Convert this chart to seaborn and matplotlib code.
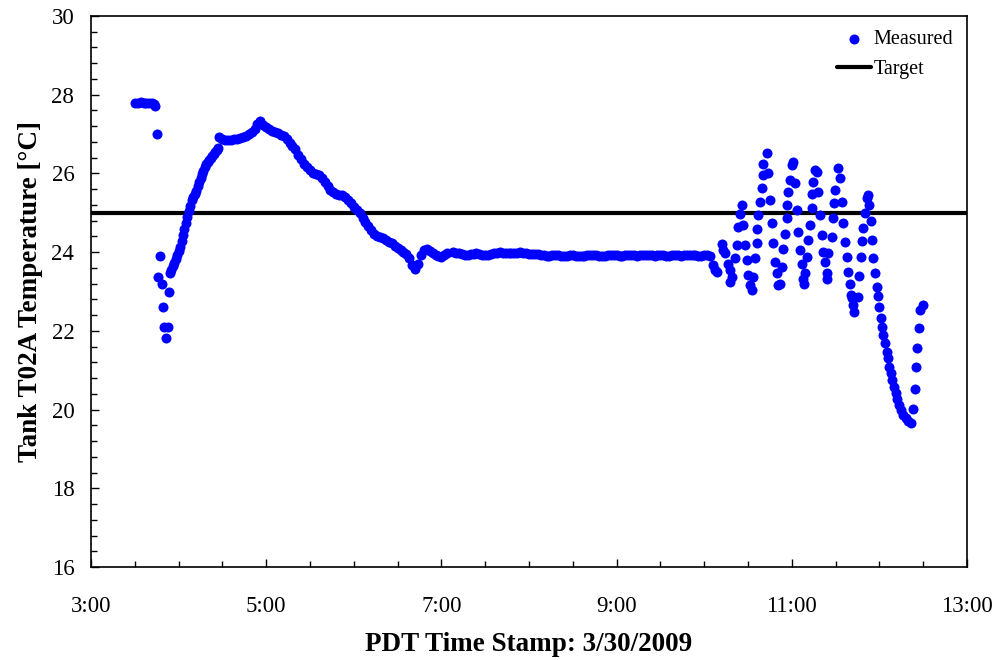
import numpy as np
import pandas as pd
import matplotlib
matplotlib.use("Agg")
import matplotlib.pyplot as plt
from matplotlib.ticker import MultipleLocator
import seaborn as sns

# ---------------- data (minutes after 3:00, temperature in deg C) ----------------
start_min = [30, 32, 34, 36, 38, 40, 42, 43, 44]
start_temp = [27.80, 27.80, 27.81, 27.80, 27.80, 27.79, 27.78, 27.76, 27.72]

drop_min = [45, 46.1, 47.3, 48.4, 49.1, 50.2, 51.4, 52.5, 53.4]
drop_temp = [27.00, 23.36, 23.90, 23.18, 22.60, 22.10, 21.81, 22.10, 22.99]

# 1-minute samples starting at minute 54
rise_start, rise_step = 54, 1
rise_temp = [23.47, 23.55, 23.64, 23.72, 23.82, 23.92, 24.03, 24.14, 24.29, 24.44,
             24.59, 24.75, 24.90, 25.05, 25.18, 25.32, 25.40, 25.48, 25.56, 25.67,
             25.78, 25.89, 25.98, 26.07, 26.16, 26.25, 26.30, 26.35, 26.40, 26.45,
             26.50, 26.55, 26.60, 26.64]

# 2-minute samples starting at minute 88
peak_start, peak_step = 88, 2
peak_temp = [26.93, 26.88, 26.86, 26.85, 26.86, 26.87, 26.88, 26.90, 26.93, 26.96,
             27.00, 27.06, 27.14, 27.25, 27.33, 27.24, 27.18, 27.12, 27.08, 27.05,
             27.02, 26.98, 26.94, 26.88, 26.78, 26.70, 26.62, 26.48, 26.36, 26.25,
             26.16, 26.08, 26.02, 25.98, 25.95, 25.88, 25.79, 25.68, 25.58, 25.52,
             25.48, 25.46, 25.44, 25.40, 25.32, 25.24, 25.15, 25.06, 24.99, 24.88,
             24.76, 24.66, 24.56, 24.47, 24.42, 24.39, 24.36, 24.31, 24.27, 24.22,
             24.16, 24.10, 24.05, 24.01, 23.96, 23.86, 23.68, 23.58, 23.70, 23.92,
             24.05, 24.08, 24.03, 23.97, 23.93, 23.90, 23.88, 23.92, 23.97]

# 2-minute samples starting at minute 248
flat_start, flat_step = 248, 2
flat_temp = [24.00, 23.99, 23.97, 23.95, 23.94, 23.94, 23.95,
             23.96, 23.97, 23.96, 23.94, 23.93, 23.94, 23.96, 23.98, 23.99, 24.00,
             23.99, 23.98, 23.97, 23.97, 23.98, 23.99, 24.00, 23.99, 23.97, 23.95,
             23.95, 23.96, 23.95, 23.94, 23.92, 23.91, 23.91, 23.92, 23.93, 23.92,
             23.91, 23.90, 23.91, 23.92, 23.92, 23.91, 23.90, 23.90, 23.91, 23.92,
             23.92, 23.93, 23.92, 23.91, 23.90, 23.91, 23.92, 23.93, 23.93, 23.92,
             23.91, 23.91, 23.92, 23.93, 23.93, 23.92, 23.91, 23.92, 23.93, 23.94,
             23.93, 23.92, 23.91, 23.92, 23.93, 23.92, 23.91, 23.91, 23.92, 23.93,
             23.92, 23.91, 23.92, 23.93, 23.94, 23.93, 23.92, 23.91, 23.91, 23.92,
             23.93, 23.91]

osc_min = [426.2, 427.4, 428.5, 431.9, 433.1, 434.2, 436.5, 437.6, 438.8, 437.9,
           441.1, 442.2, 443.4, 444.5, 445.6, 446.8, 447.9, 449.1, 450.2, 451.3,
           452.5, 453.6, 454.8, 455.9, 456.5, 457.1, 458.2, 459.3, 460.0, 460.5,
           462.8, 463.9, 465.0, 466.2, 467.3, 468.5, 469.6, 470.8, 471.9, 473.0,
           474.2, 475.3, 476.5, 477.0, 477.6, 478.7, 479.9, 481.0, 482.2, 483.3,
           484.5, 485.6, 486.7, 487.9, 488.4, 489.0, 490.2, 491.3, 492.4, 493.6,
           494.1, 494.7, 495.9, 497.0, 498.1, 499.3, 500.4, 501.6, 502.7, 503.9,
           504.4, 505.0, 507.3, 508.4, 509.0, 509.6, 511.8, 513.0, 514.1, 515.3,
           516.4, 517.6, 518.7, 519.8, 520.3, 521.0, 522.1, 522.6,
           525.6, 526.2, 527.2, 527.8, 529.0, 530.1, 531.3, 532.4, 533.1, 534.0,
           534.9, 535.8, 537.0, 538.1, 539.3, 540.0, 540.9, 541.8, 542.7, 543.8,
           545.0, 545.6, 546.8, 547.7, 548.8, 550.0, 551.1, 552.3, 553.4, 554.8,
           556.4, 558.2, 559.5, 561.4, 562.8, 564.4, 565.1, 566.0, 567.1, 567.8,
           569.6]
osc_temp = [23.68, 23.54, 23.50, 24.20, 24.05, 23.97, 23.71, 23.54, 23.38, 23.25,
            23.84, 24.18, 24.64, 24.98, 25.20, 24.69, 24.18, 23.80, 23.42, 23.17,
            23.04, 23.37, 23.84, 24.22, 24.60, 24.94, 25.28, 25.62, 25.96, 26.25,
            26.51, 26.00, 25.32, 24.73, 24.22, 23.76, 23.46, 23.16, 23.20, 23.63,
            24.09, 24.47, 24.86, 25.20, 25.54, 25.83, 26.21, 26.30, 25.75, 25.07,
            24.52, 24.05, 23.71, 23.33, 23.20, 23.46, 23.88, 24.31, 24.69, 25.11,
            25.49, 25.79, 26.09, 26.04, 25.54, 24.94, 24.43, 24.01, 23.76, 23.46,
            23.33, 23.97, 24.39, 24.86, 25.24, 25.58, 26.13, 25.88, 25.28, 24.73,
            24.26, 23.88, 23.50, 23.20, 22.91, 22.83, 22.66, 22.49,
            22.87, 23.40, 23.88, 24.28, 24.62, 24.99, 25.37, 25.45, 25.20, 24.79,
            24.31, 23.86, 23.48, 23.12, 22.89, 22.61, 22.33, 22.11, 21.89, 21.68,
            21.47, 21.30, 21.09, 20.92, 20.75, 20.58, 20.41, 20.26, 20.12, 19.99,
            19.86, 19.78, 19.72, 19.65, 20.01, 20.51, 21.09, 21.56, 22.08, 22.53,
            22.66]

target_temp = 25.0
x_ticks_h = [3, 5, 7, 9, 11, 13]
x_tick_labels = ["3:00", "5:00", "7:00", "9:00", "11:00", "13:00"]
y_ticks = [16, 18, 20, 22, 24, 26, 28, 30]

# ---------------- assemble ----------------
def regular(start, step, vals):
    return list(range(start, start + step * len(vals), step))

minutes = (start_min + drop_min + regular(rise_start, rise_step, rise_temp)
           + regular(peak_start, peak_step, peak_temp)
           + regular(flat_start, flat_step, flat_temp) + osc_min)
temps = start_temp + drop_temp + rise_temp + peak_temp + flat_temp + osc_temp
df = pd.DataFrame({"hour": 3 + np.array(minutes, dtype=float) / 60.0, "temp": temps})
tgt = pd.DataFrame({"hour": [x_ticks_h[0], x_ticks_h[-1]], "temp": [target_temp, target_temp]})

# ---------------- style ----------------
sns.set_theme(style="white")
plt.rcParams["font.family"] = ["Liberation Serif", "DejaVu Serif"]
plt.rcParams["text.color"] = "black"
plt.rcParams["axes.labelcolor"] = "black"

fig = plt.figure(figsize=(9.98, 6.6), dpi=100)
ax = fig.add_axes([91 / 998, 1 - 567 / 660, 876 / 998, 551 / 660])

sns.scatterplot(data=df, x="hour", y="temp", ax=ax, color="#0000FF", s=52,
                linewidth=0, label="Measured", zorder=3)
sns.lineplot(data=tgt, x="hour", y="temp", ax=ax, color="black", linewidth=3.0,
             label="Target", zorder=2)

ax.set_xlim(3, 13)
ax.set_ylim(16, 30)
ax.set_xticks(x_ticks_h)
ax.set_xticklabels(x_tick_labels)
ax.set_yticks(y_ticks)
ax.xaxis.set_minor_locator(MultipleLocator(0.5))
ax.yaxis.set_minor_locator(MultipleLocator(0.4))
ax.tick_params(axis="both", which="major", direction="in", length=6, width=1,
               labelsize=16.5, colors="black", labelcolor="black")
ax.tick_params(axis="x", which="major", pad=21)
ax.tick_params(axis="y", which="major", pad=12)
ax.tick_params(axis="both", which="minor", direction="in", length=4, width=1,
               bottom=True, left=True, colors="black")
ax.tick_params(bottom=True, left=True)

for sp in ax.spines.values():
    sp.set_visible(True)
    sp.set_color("black")
    sp.set_linewidth(1.2)

ax.set_xlabel("PDT Time Stamp: 3/30/2009", fontsize=19.5, fontweight="bold",
              labelpad=11, color="black")
ax.set_ylabel("Tank T02A Temperature [°C]", fontsize=19.5, fontweight="bold",
              labelpad=6, color="black")

leg = ax.legend(loc="upper right", bbox_to_anchor=(1.0, 1.0), frameon=False, fontsize=14.5,
                handlelength=1.7, handletextpad=0.1, labelspacing=0.55, borderaxespad=0.3,
                markerscale=1.0)
for t in leg.get_texts():
    t.set_color("black")

fig.savefig("out.png", dpi=100)
